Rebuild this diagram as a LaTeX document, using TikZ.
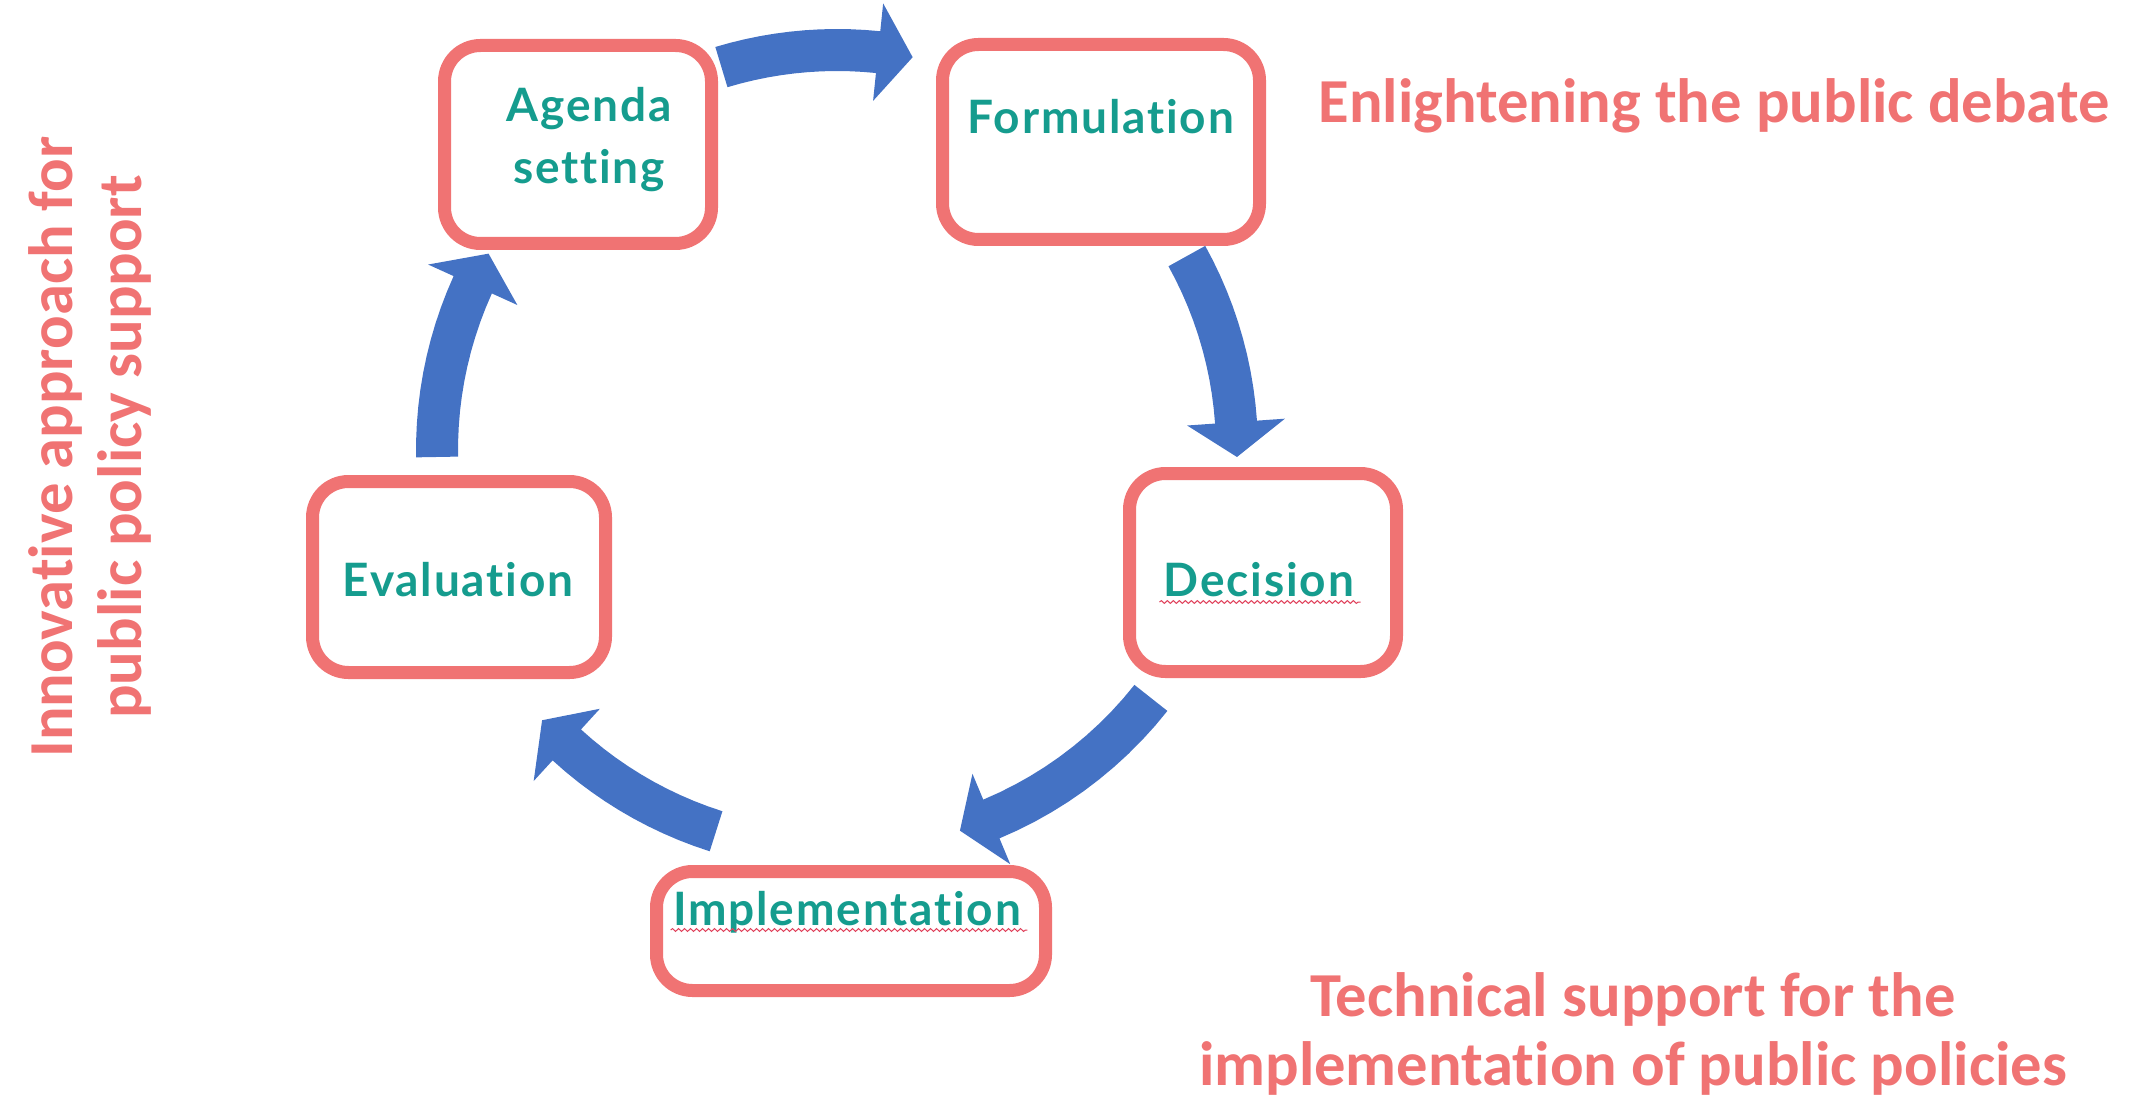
\documentclass[tikz,border=0pt]{standalone}
\usepackage{fontspec}
\usetikzlibrary{decorations.pathmorphing}
\newfontfamily\stagefont{Lato}[Ligatures=NoCommon, LetterSpace=4]
\newfontfamily\notefont{Carlito}[Ligatures=NoCommon]
\definecolor{boxred}{HTML}{F07373}
\definecolor{stageteal}{HTML}{159C8E}
\definecolor{arrowblue}{HTML}{4472C4}
\definecolor{spellred}{HTML}{E0405A}
\tikzset{
  stage/.style={draw=boxred, line width=6.5pt, rounded corners=18pt, fill=white},
  stagetext/.style={text=stageteal, font=\stagefont\bfseries\fontsize{23}{31}\selectfont,
    align=center, inner sep=0pt},
  note/.style={text=boxred, font=\notefont\bfseries\fontsize{31.3}{34.5}\selectfont,
    align=center, inner sep=0pt},
  spell/.style={spellred, line width=0.5pt, decorate,
    decoration={snake, amplitude=0.7pt, segment length=3pt}}
}

\begin{document}
\begin{tikzpicture}[x=0.5pt, y=-0.5pt]
    \useasboundingbox (0,0) rectangle (2139,1101);
    % the five stages
    \node[stage, minimum width=133.5pt, minimum height=99pt] (agenda) at (578,144.5) {};
    \node[stage, minimum width=158.5pt, minimum height=97.5pt] (formulation) at (1101,142) {};
    \node[stage, minimum width=133.5pt, minimum height=99pt] (decision) at (1263,572.5) {};
    \node[stage, minimum width=194.5pt, minimum height=59.5pt] (implementation) at (851,931) {};
    \node[stage, minimum width=146.5pt, minimum height=95.5pt] (evaluation) at (459,577) {};
    \node[stagetext] (agendatxt) at (589,140) {Agenda\\setting};
    \node[stagetext, anchor=base] (formtxt) at (1101,134) {Formulation};
    \node[stagetext, anchor=base] (dectxt) at (1259,596) {Decision};
    \node[stagetext, anchor=base] (impltxt) at (847,925) {Implementation};
    \node[stagetext, anchor=base] (evaltxt) at (458,596) {Evaluation};
    \draw[spell] ([shift={(-2pt,-3pt)}]dectxt.base west) -- ([shift={(3pt,-3pt)}]dectxt.base east);
    \draw[spell] ([shift={(-1pt,-2.5pt)}]impltxt.base west) -- ([shift={(3pt,-2.5pt)}]impltxt.base east);
    % cycle arrows
    \begin{scope}[shift={(837,450)}]
        \foreach \tail/\base/\tip in {-106.8/-84.1/-79.1, -29/-4/1, 38.3/67.3/72.1,
                107.6/132.5/137.5, 179/204.4/209.4}
        \fill[arrowblue] plot[domain=\tail:\base, samples=12] (\x:421) -- (\base:449)
            -- (\tip:400) -- (\base:351) -- plot[domain=\base:\tail, samples=12] (\x:379) -- cycle;
    \end{scope}
    % side notes
    \node[note, anchor=base] (debate) at (1714,123) {Enlightening the public debate};
    \node[note] (technical) at (1633,1034) {Technical support for the\\implementation of public policies};
    \node[note, rotate=90] (innovative) at (90,447) {Innovative approach for\\public policy support};
\end{tikzpicture}
\end{document}
